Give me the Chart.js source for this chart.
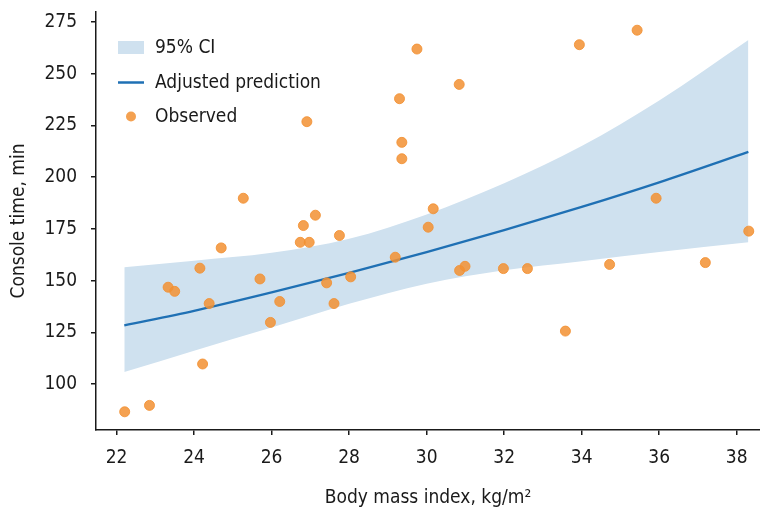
<!DOCTYPE html>
<html>
<head>
<meta charset="utf-8">
<script src="https://cdn.jsdelivr.net/npm/chart.js@4.4.1/dist/chart.umd.min.js"></script>
<style>
  html, body { margin: 0; padding: 0; background: #fff; }
  #wrap { width: 760px; height: 512px; }
</style>
</head>
<body>
<div id="wrap"><canvas id="chart" width="760" height="512"></canvas></div>
<script>
// observed points
const bmi = [22.21, 22.85, 23.33, 23.50, 24.15, 24.39, 24.22, 24.70, 25.27, 25.70,
  25.97, 26.21, 26.82, 26.74, 26.97, 27.13, 26.91, 27.75, 27.42, 27.61,
  28.04, 29.19, 29.75, 29.30, 29.36, 29.36, 30.84, 30.17, 30.04, 33.94,
  35.43, 35.92, 38.31, 30.85, 30.99, 31.98, 32.60, 34.72, 37.19, 33.58];
const consoleTime = [86.6, 89.7, 146.8, 144.8, 156.0, 138.9, 109.7, 165.8, 189.8, 150.8,
  129.8, 139.9, 176.6, 168.5, 168.5, 181.6, 226.8, 171.8, 148.9, 138.9,
  151.8, 161.3, 261.9, 237.9, 216.8, 208.9, 244.8, 184.7, 175.8, 264.0,
  271.0, 189.8, 173.9, 154.9, 156.9, 155.8, 155.8, 157.8, 158.7, 125.6];

// fitted curve and band
const fitX = [22.2, 24, 26, 28, 30, 32, 34, 36, 38.3];
const fitPred = [128.4, 135.4, 144.3, 153.7, 163.8, 174.4, 185.6, 197.5, 212.2];
const ciUpper = [156.5, 159.6, 163.4, 170.2, 182.0, 197.0, 215.0, 237.0, 266.3];
const ciLower = [105.8, 116.1, 127.3, 138.8, 148.5, 155.0, 159.4, 163.8, 168.5];

const xTicks = [22, 24, 26, 28, 30, 32, 34, 36, 38];
const yTicks = [100, 125, 150, 175, 200, 225, 250, 275];

const FONT = '"Liberation Sans Narrow", "DejaVu Sans Condensed", Roboto, sans-serif';
const INK = '#1a1a1a';
const BAND = '#cfe1ef';
const LINE = '#1f70b4';
const DOT = 'rgba(242,145,50,0.85)';

const pts = (xs, ys) => xs.map((x, i) => ({ x: x, y: ys[i] }));

// legend drawn inside the plot, top-left
const insideLegend = {
  id: 'insideLegend',
  afterDraw(chart) {
    const ctx = chart.ctx;
    const left = chart.chartArea.left + 22;
    const items = [
      { label: '95% CI', kind: 'band', y: 47.5 },
      { label: 'Adjusted prediction', kind: 'line', y: 82.5 },
      { label: 'Observed', kind: 'dot', y: 116.5 }
    ];
    ctx.save();
    items.forEach(it => {
      if (it.kind === 'band') {
        ctx.fillStyle = BAND;
        ctx.fillRect(left, it.y - 6.5, 26, 13);
      } else if (it.kind === 'line') {
        ctx.strokeStyle = LINE;
        ctx.lineWidth = 2.5;
        ctx.beginPath();
        ctx.moveTo(left, it.y);
        ctx.lineTo(left + 26, it.y);
        ctx.stroke();
      } else {
        ctx.fillStyle = DOT;
        ctx.beginPath();
        ctx.arc(left + 13, it.y, 5, 0, Math.PI * 2);
        ctx.fill();
      }
      ctx.fillStyle = INK;
      ctx.font = '19px ' + FONT;
      ctx.textBaseline = 'middle';
      ctx.fillText(it.label, left + 37, it.y + 1);
    });
    ctx.restore();
  }
};

new Chart(document.getElementById('chart'), {
  type: 'scatter',
  data: {
    datasets: [
      {
        label: 'Observed',
        data: pts(bmi, consoleTime),
        backgroundColor: DOT,
        borderColor: DOT,
        borderWidth: 1,
        pointRadius: 5,
        pointHoverRadius: 5,
        clip: 8
      },
      {
        label: 'Adjusted prediction',
        data: pts(fitX, fitPred),
        showLine: true,
        borderColor: LINE,
        borderWidth: 2.3,
        pointRadius: 0,
        cubicInterpolationMode: 'monotone'
      },
      {
        label: '95% CI',
        data: pts(fitX, ciUpper),
        showLine: true,
        borderWidth: 0,
        borderColor: 'rgba(0,0,0,0)',
        backgroundColor: BAND,
        pointRadius: 0,
        fill: '+1',
        cubicInterpolationMode: 'monotone'
      },
      {
        label: 'CI lower',
        data: pts(fitX, ciLower),
        showLine: true,
        borderWidth: 0,
        borderColor: 'rgba(0,0,0,0)',
        pointRadius: 0,
        fill: false,
        cubicInterpolationMode: 'monotone'
      }
    ]
  },
  options: {
    responsive: false,
    animation: false,
    layout: { autoPadding: false, padding: { top: 12, right: 0, left: 0, bottom: 0 } },
    plugins: { legend: { display: false }, tooltip: { enabled: false } },
    scales: {
      x: {
        type: 'linear',
        min: 21.47,
        max: 38.6,
        afterBuildTicks: s => { s.ticks = xTicks.map(v => ({ value: v })); },
        afterFit: s => { s.height = 82; s.paddingLeft = 0; s.paddingRight = 0; },
        border: { display: true, color: INK, width: 1.5 },
        grid: { drawOnChartArea: false, drawTicks: true, tickLength: 5, color: INK, lineWidth: 1.5 },
        ticks: { color: INK, padding: 12, font: { family: FONT, size: 19 } },
        title: {
          display: true,
          text: 'Body mass index, kg/m²',
          color: INK,
          font: { family: FONT, size: 19 },
          padding: { top: 0, bottom: 3 }
        }
      },
      y: {
        type: 'linear',
        min: 77.8,
        max: 279.8,
        afterBuildTicks: s => { s.ticks = yTicks.map(v => ({ value: v })); },
        afterFit: s => { s.width = 96; s.paddingTop = 0; s.paddingBottom = 0; },
        border: { display: true, color: INK, width: 1.5 },
        grid: { drawOnChartArea: false, drawTicks: true, tickLength: 5, color: INK, lineWidth: 1.5 },
        ticks: { color: INK, padding: 14, font: { family: FONT, size: 19 } },
        title: {
          display: true,
          text: 'Console time, min',
          color: INK,
          font: { family: FONT, size: 19 },
          padding: { top: 8, bottom: 0 }
        }
      }
    }
  },
  plugins: [insideLegend]
});
</script>
</body>
</html>
